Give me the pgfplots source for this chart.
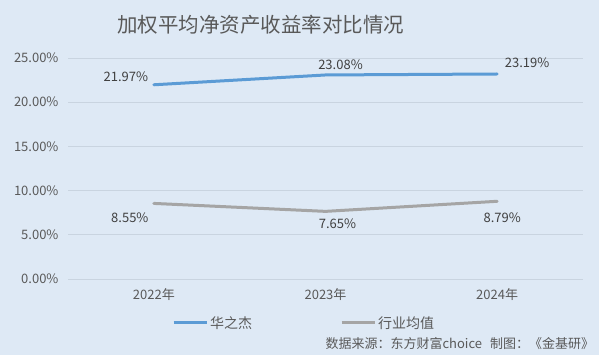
\documentclass[border=0pt]{standalone}
\usepackage{pgfplots}
\usepackage{pgfplotstable}
\pgfplotsset{compat=1.18}
\usepackage{fontspec}
\setmainfont{Noto Sans CJK SC}
\definecolor{bg}{HTML}{DEE9F5}
\definecolor{gridc}{HTML}{C9D4E0}
\definecolor{txt}{HTML}{595959}
\definecolor{lbl}{HTML}{404040}
\definecolor{blueL}{HTML}{5B9BD5}
\definecolor{grayL}{HTML}{A5A5A5}
\pgfplotstableread{
x y dx dy lab
0 21.97 -28 8 21.97\%
1 23.08 15 10 23.08\%
2 23.19 30 11 23.19\%
}\hzj
\pgfplotstableread{
x y dx dy lab
0 8.55 -24 -14 8.55\%
1 7.65 12 -12 7.65\%
2 8.79 5 -16 8.79\%
}\hyjz
\begin{document}
\begin{tikzpicture}[x=1pt,y=1pt]
\fill[bg] (0,0) rectangle (599,355);
\node[text=txt,font=\fontsize{20.5}{24}\selectfont] at (260.5,330) {加权平均净资产收益率对比情况};
\begin{axis}[
  at={(68pt,76pt)}, anchor=south west,
  scale only axis, width=515pt, height=221pt,
  xmin=-0.5, xmax=2.5, ymin=0, ymax=25,
  xtick={0,1,2}, xticklabels={2022年,2023年,2024年},
  ytick={0,5,10,15,20,25},
  yticklabels={0.00\%,5.00\%,10.00\%,15.00\%,20.00\%,25.00\%},
  axis line style={draw=none},
  major tick length=0pt,
  xmajorgrids=false, ymajorgrids=true,
  grid style={draw=gridc, line width=0.8pt},
  tick label style={text=txt, font=\fontsize{13}{15}\selectfont},
  yticklabel style={xshift=-6pt},
  xticklabel style={yshift=-6pt},
  legend columns=2,
  legend style={at={(0.202,-0.199)}, anchor=west, draw=none, fill=none,
    font=\fontsize{14}{16}\selectfont, text=txt, inner xsep=0pt,
    /tikz/every even column/.append style={column sep=86pt}},
  legend image code/.code={\draw[#1,line cap=butt] (0pt,0pt) -- (33pt,0pt);},
  nodes near coords,
  point meta=explicit symbolic,
  visualization depends on={\thisrow{dx} \as \ddx},
  visualization depends on={\thisrow{dy} \as \ddy},
  every node near coord/.style={anchor=center, xshift=\ddx pt, yshift=\ddy pt,
    text=lbl, font=\fontsize{13}{15}\selectfont},
  clip=false,
]
\addplot[blueL, line width=3pt, line cap=round] table[x=x, y=y, meta=lab] {\hzj};
\addlegendentry{华之杰}
\addplot[grayL, line width=3pt, line cap=round] table[x=x, y=y, meta=lab] {\hyjz};
\addlegendentry{行业均值}
\end{axis}
\node[anchor=west, text=txt, font=\fontsize{13}{15}\selectfont] at (322,11) {数据来源：东方财富choice\hspace{8pt}制图：《金基研》};
\end{tikzpicture}
\end{document}
